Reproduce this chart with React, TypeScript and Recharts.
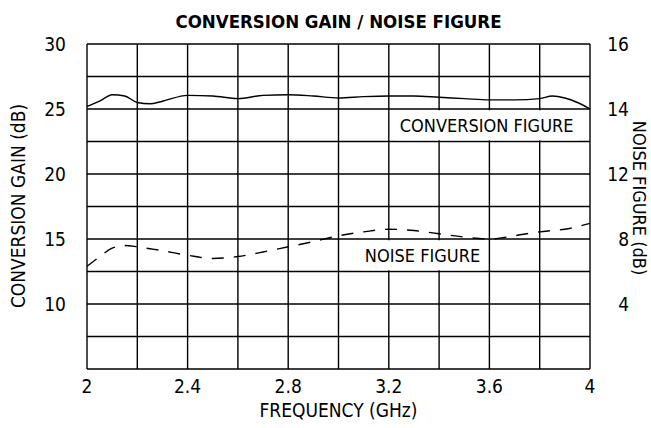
import React from "react";
import {
  CartesianGrid,
  Line,
  LineChart,
  ReferenceArea,
  XAxis,
  YAxis
} from "recharts";

const FONT = "'Liberation Sans Narrow', 'DejaVu Sans Condensed', Arial, sans-serif";

// frequency points (GHz)
const freqs = [2.0, 2.05, 2.1, 2.15, 2.2, 2.25, 2.3, 2.4, 2.5, 2.6, 2.7, 2.8, 2.9, 3.0, 3.1, 3.2, 3.3, 3.4, 3.5, 3.6, 3.7, 3.8, 3.85, 3.9, 3.95, 4.0];
// conversion gain (dB), left axis
const gain = [25.2, 25.6, 26.1, 26.0, 25.5, 25.4, 25.6, 26.05, 26.0, 25.8, 26.05, 26.1, 26.0, 25.85, 25.95, 26.0, 26.0, 25.9, 25.8, 25.7, 25.7, 25.8, 26.0, 25.85, 25.5, 25.0];
// noise figure (dB), right axis
const noise = [6.32, 6.9, 7.44, 7.6, 7.52, 7.4, 7.28, 7.0, 6.8, 6.92, 7.2, 7.52, 7.84, 8.2, 8.44, 8.6, 8.52, 8.32, 8.12, 8.0, 8.2, 8.44, 8.52, 8.6, 8.76, 8.96];

const xGrid = [2, 2.2, 2.4, 2.6, 2.8, 3, 3.2, 3.4, 3.6, 3.8, 4];
const xLabels = [2, 2.4, 2.8, 3.2, 3.6, 4];
const leftGrid = [5, 7.5, 10, 12.5, 15, 17.5, 20, 22.5, 25, 27.5, 30];
const leftLabels = [10, 15, 20, 25, 30];
const rightTickPos = [4, 8, 12, 16, 20];
const rightTickLabels = ["4", "8", "12", "14", "16"];

const data = freqs.map((f, i) => ({ f, gain: gain[i], noise: noise[i] }));

const RightTick = (props: any) => {
  const { x, y, payload } = props;
  const idx = rightTickPos.indexOf(payload.value);
  if (idx < 0) return null;
  return (
    <text x={x + 37} y={y} dy="0.36em" textAnchor="end" fontSize={19} fontFamily={FONT} fill="#000">
      {rightTickLabels[idx]}
    </text>
  );
};

export default function App() {
  return (
    <div style={{ position: "absolute", left: 0, top: 0, background: "#fff" }}>
      <LineChart width={651} height={428} data={data} margin={{ top: 44, right: 0, bottom: 0, left: 0 }}>
        <CartesianGrid yAxisId="left" stroke="#000" strokeWidth={1.4} />
        <XAxis
          dataKey="f"
          type="number"
          domain={[2, 4]}
          ticks={xGrid}
          interval={0}
          height={59}
          axisLine={false}
          tickLine={false}
          tickSize={0}
          tickMargin={11}
          tick={{ fontSize: 19, fill: "#000", fontFamily: FONT }}
          tickFormatter={(v: number) => (xLabels.includes(v) ? String(v) : "")}
        />
        <YAxis
          yAxisId="left"
          domain={[5, 30]}
          ticks={leftGrid}
          interval={0}
          width={87}
          axisLine={false}
          tickLine={false}
          tickSize={0}
          tickMargin={21}
          tick={{ fontSize: 19, fill: "#000", fontFamily: FONT }}
          tickFormatter={(v: number) => (leftLabels.includes(v) ? String(v) : "")}
        />
        <YAxis
          yAxisId="right"
          orientation="right"
          domain={[0, 20]}
          ticks={rightTickPos}
          interval={0}
          width={61}
          axisLine={false}
          tickLine={false}
          tickSize={0}
          tick={<RightTick />}
        />
        <ReferenceArea
          yAxisId="left"
          x1={3.225}
          x2={3.953}
          y1={22.6}
          y2={24.9}
          fill="#fff"
          fillOpacity={1}
          stroke="none"
          label={{ value: "CONVERSION FIGURE", position: "center", fontSize: 18, fill: "#000", fontFamily: FONT }}
        />
        <ReferenceArea
          yAxisId="left"
          x1={3.093}
          x2={3.575}
          y1={12.6}
          y2={14.9}
          fill="#fff"
          fillOpacity={1}
          stroke="none"
          label={{ value: "NOISE FIGURE", position: "center", fontSize: 18, fill: "#000", fontFamily: FONT }}
        />
        <Line
          yAxisId="left"
          type="monotone"
          dataKey="gain"
          stroke="#000"
          strokeWidth={1.4}
          dot={false}
          isAnimationActive={false}
        />
        <Line
          yAxisId="right"
          type="monotone"
          dataKey="noise"
          stroke="#000"
          strokeWidth={1.4}
          strokeDasharray="12 10"
          dot={false}
          isAnimationActive={false}
        />
        <text x={338.5} y={28} textAnchor="middle" fontSize={18.5} fontWeight="bold" fontFamily={FONT} fill="#000">
          CONVERSION GAIN / NOISE FIGURE
        </text>
        <text x={338.5} y={417} textAnchor="middle" fontSize={19} fontFamily={FONT} fill="#000">
          FREQUENCY (GHz)
        </text>
        <text
          x={0}
          y={0}
          transform="translate(25 206) rotate(-90)"
          textAnchor="middle"
          fontSize={19}
          fontFamily={FONT}
          fill="#000"
        >
          CONVERSION GAIN (dB)
        </text>
        <text
          x={0}
          y={0}
          transform="translate(633 198) rotate(90)"
          textAnchor="middle"
          fontSize={18}
          fontFamily={FONT}
          fill="#000"
        >
          NOISE FIGURE (dB)
        </text>
      </LineChart>
    </div>
  );
}
